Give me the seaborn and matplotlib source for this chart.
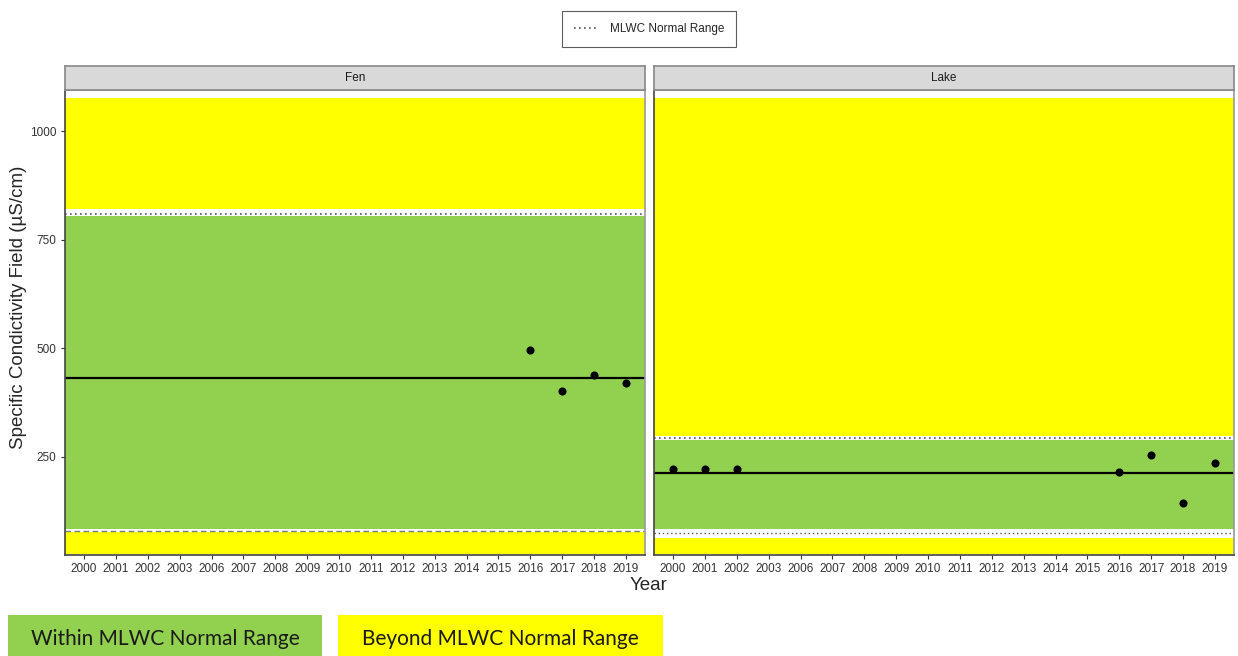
import matplotlib
matplotlib.use("Agg")
import numpy as np
import pandas as pd
import seaborn as sns
from matplotlib import pyplot as plt
from matplotlib.lines import Line2D
from matplotlib.patches import Rectangle

# x categories (discrete years)
years = ["2000", "2001", "2002", "2003", "2006", "2007", "2008", "2009", "2010",
         "2011", "2012", "2013", "2014", "2015", "2016", "2017", "2018", "2019"]

sites = ["Fen", "Lake"]

# observed values
fen_years = ["2016", "2017", "2018", "2019"]
fen_values = [497, 402, 439, 421]
lake_years = ["2000", "2001", "2002", "2016", "2017", "2018", "2019"]
lake_values = [223, 223, 221, 216, 255, 143, 237]

# site mean and MLWC normal range
site_mean = [432, 214]
range_low = [80, 74]
range_high = [810, 294]

# band edges (with white gap around the range lines)
band_top = 1076
band_bottom = 27
green_low = [83, 83]
green_high = [805, 290]
yellow_low_top = [76, 64]
yellow_high_bottom = [820, 299]
low_line_style = [(0, (4, 2.5)), (0, (1, 2))]

GREEN = "#92d050"
YELLOW = "#ffff00"

sns.set_theme(style="white")
plt.rcParams["font.family"] = ["Liberation Sans", "DejaVu Sans"]

df = pd.DataFrame({
    "site": ["Fen"] * len(fen_years) + ["Lake"] * len(lake_years),
    "year": fen_years + lake_years,
    "value": fen_values + lake_values,
})
df["xpos"] = df["year"].map({y: i for i, y in enumerate(years)})

fig = plt.figure(figsize=(12.38, 6.56), dpi=100)
W, H = 1238, 656
panels = [(65, 645), (654, 1234)]
top, bottom = 90, 555

for i, site in enumerate(sites):
    x0, x1 = panels[i]
    ax = fig.add_axes([x0 / W, 1 - bottom / H, (x1 - x0) / W, (bottom - top) / H])
    ax.set_xlim(-0.6, len(years) - 0.4)
    ax.set_ylim(24, 1095)

    ax.axhspan(yellow_high_bottom[i], band_top, color=YELLOW, lw=0, zorder=0)
    ax.axhspan(green_low[i], green_high[i], color=GREEN, lw=0, zorder=0)
    ax.axhspan(band_bottom, yellow_low_top[i], color=YELLOW, lw=0, zorder=0)
    ax.axhline(range_high[i], color="#555555", lw=1.2, ls=(0, (1, 2)), zorder=1)
    ax.axhline(range_low[i], color="#777777" if i == 0 else "#555555", lw=1.0,
               ls=low_line_style[i], zorder=1)
    ax.axhline(site_mean[i], color="black", lw=1.6, zorder=2)

    sub = df[df["site"] == site]
    sns.scatterplot(data=sub, x="xpos", y="value", color="black", s=34,
                    edgecolor="black", linewidth=0, ax=ax, zorder=3, legend=False)

    ax.set_xticks(range(len(years)))
    ax.set_xticklabels(years)
    ax.set_xlabel("")
    ax.set_ylabel("")
    ax.tick_params(axis="both", which="both", length=3, width=0.8, color="#333333",
                   labelsize=8.5, labelcolor="#333333", pad=3, bottom=True, left=True)
    if i == 0:
        ax.set_yticks([250, 500, 750, 1000])
        ax.set_yticklabels(["250", "500", "750", "1000"])
    else:
        ax.set_yticks([])
    for side in ["top", "right"]:
        ax.spines[side].set_color("#999999")
        ax.spines[side].set_linewidth(1.2)
    for side in ["left", "bottom"]:
        ax.spines[side].set_color("#444444")
        ax.spines[side].set_linewidth(1.2)

    # facet strip
    strip = fig.add_axes([x0 / W, 1 - top / H, (x1 - x0) / W, 24 / H])
    strip.set_facecolor("#d9d9d9")
    strip.set_xticks([])
    strip.set_yticks([])
    for side in strip.spines.values():
        side.set_color("#888888")
        side.set_linewidth(1.2)
    strip.text(0.5, 0.5, site, ha="center", va="center", fontsize=8.5,
               color="#1a1a1a", transform=strip.transAxes)

fig.text(19 / W, 1 - 307 / H, "Specific Condictivity Field (µS/cm)", rotation=90,
         ha="center", va="center", fontsize=13.5)
fig.text(649 / W, 1 - 585 / H, "Year", ha="center", va="center", fontsize=13.5)

# top legend
handle = Line2D([], [], color="#555555", lw=1.2, ls=(0, (1, 2)))
leg = fig.legend([handle], ["MLWC Normal Range"], loc="center",
                 bbox_to_anchor=(649 / W, 1 - 29 / H), frameon=True, fancybox=False,
                 fontsize=8.5, handlelength=2.0, borderpad=1.0, handletextpad=1.0)
leg.get_frame().set_edgecolor("#333333")
leg.get_frame().set_linewidth(0.8)

# bottom key boxes
boxes = [(8, 322, GREEN, "Within MLWC Normal Range"),
         (338, 663, YELLOW, "Beyond MLWC Normal Range")]
for bx0, bx1, col, label in boxes:
    fig.patches.append(Rectangle((bx0 / W, 0), (bx1 - bx0) / W, 41 / H,
                                 transform=fig.transFigure, facecolor=col, edgecolor="none"))
    fig.text((bx0 + bx1) / 2 / W, 1 - 639 / H, label, ha="center", va="center",
             fontsize=15, family=["Lato", "DejaVu Sans"], color="#1a1a1a")

fig.savefig("out.png", dpi=100)
